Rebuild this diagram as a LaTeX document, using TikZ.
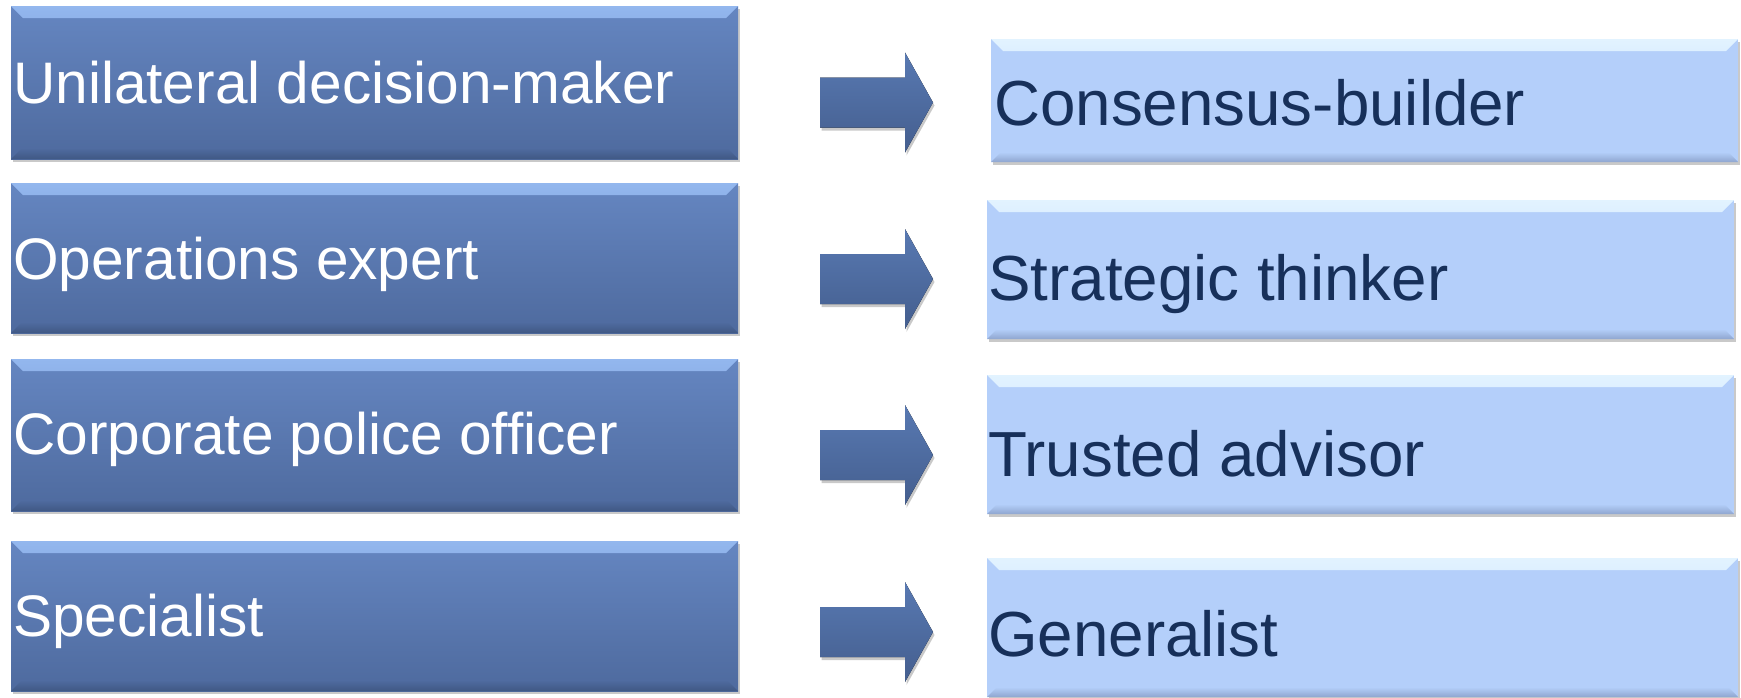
\documentclass[tikz,border=0pt]{standalone}
\usepackage{fontspec}
\setmainfont{Liberation Sans}
\usetikzlibrary{shadows}
\usetikzlibrary{positioning}

\definecolor{leftTop}{HTML}{6586C1}
\definecolor{leftBottom}{HTML}{4E6A9E}
\definecolor{leftBevel}{HTML}{93B7EE}
\definecolor{leftEdge}{HTML}{405884}
\definecolor{rightFill}{HTML}{B4CFFA}
\definecolor{rightBevel}{HTML}{E2F3FF}
\definecolor{rightEdge}{HTML}{8FA6CF}
\definecolor{arrowTop}{HTML}{5879B2}
\definecolor{arrowBottom}{HTML}{445E8E}
\definecolor{navyText}{HTML}{17305A}

\tikzset{
  boxshadow/.style={drop shadow={shadow xshift=1.5pt, shadow yshift=-3pt, opacity=0.35, fill=black!60}},
  darkbox/.style={rectangle, inner sep=0pt, top color=leftTop, bottom color=leftBottom, boxshadow,
    path picture={
      \shade[top color=leftBevel, bottom color=leftTop] (path picture bounding box.north west) -- (path picture bounding box.north east)
        -- ([shift={(-12pt,-12pt)}]path picture bounding box.north east)
        -- ([shift={(12pt,-12pt)}]path picture bounding box.north west) -- cycle;
      \shade[top color=leftBottom, bottom color=leftEdge] (path picture bounding box.south west) -- (path picture bounding box.south east)
        -- ([shift={(-10pt,10pt)}]path picture bounding box.south east)
        -- ([shift={(10pt,10pt)}]path picture bounding box.south west) -- cycle;
    }},
  lightbox/.style={rectangle, inner sep=0pt, fill=rightFill, boxshadow,
    path picture={
      \shade[top color=rightBevel, bottom color=rightFill] (path picture bounding box.north west) -- (path picture bounding box.north east)
        -- ([shift={(-12pt,-12pt)}]path picture bounding box.north east)
        -- ([shift={(12pt,-12pt)}]path picture bounding box.north west) -- cycle;
      \shade[top color=rightFill, bottom color=rightEdge] (path picture bounding box.south west) -- (path picture bounding box.south east)
        -- ([shift={(-10pt,10pt)}]path picture bounding box.south east)
        -- ([shift={(10pt,10pt)}]path picture bounding box.south west) -- cycle;
    }},
  lefttext/.style={anchor=base west, inner sep=0pt, text=white, font=\fontsize{58.6}{70}\selectfont},
  righttext/.style={anchor=base west, inner sep=0pt, text=navyText, font=\fontsize{63.7}{76}\selectfont},
  blockarrow/.pic={
    \fill[top color=arrowTop, bottom color=arrowBottom, boxshadow]
      (-56.5,-25) -- (28.5,-25) -- (28.5,-50) -- (56.5,0) -- (28.5,50) -- (28.5,25) -- (-56.5,25) -- cycle;
  }
}

\begin{document}
\begin{tikzpicture}[x=1pt, y=-1pt]
\useasboundingbox (0,0) rectangle (1741,697);
\fill[white] (0,0) rectangle (1741,697);

% old roles
\node[darkbox, minimum width=727pt, minimum height=153pt] (left1) at (374.5,82.5) {};
\node[darkbox, minimum width=727pt, minimum height=150pt] (left2) at (374.5,258) {};
\node[darkbox, minimum width=727pt, minimum height=152pt] (left3) at (374.5,435) {};
\node[darkbox, minimum width=727pt, minimum height=150pt] (left4) at (374.5,616) {};

\node[lefttext] (oldrole1) at (13,103) {Unilateral decision-maker};
\node[lefttext] (oldrole2) at (13,279) {Operations expert};
\node[lefttext] (oldrole3) at (13,454) {Corporate police officer};
\node[lefttext] (oldrole4) at (13,636) {Specialist};

% arrows
\pic at (876.5,102.5) {blockarrow};
\pic at (876.5,279) {blockarrow};
\pic at (876.5,455) {blockarrow};
\pic at (876.5,632) {blockarrow};

% new roles
\node[lightbox, minimum width=747pt, minimum height=123pt] (right1) at (1364.5,100.5) {};
\node[lightbox, minimum width=747pt, minimum height=139pt] (right2) at (1360.5,269.5) {};
\node[lightbox, minimum width=747pt, minimum height=139pt] (right3) at (1360.5,444.5) {};
\node[lightbox, minimum width=751pt, minimum height=139pt] (right4) at (1362.5,627.5) {};

\node[righttext] (newrole1) at (994,125) {Consensus-builder};
\node[righttext] (newrole2) at (988,300) {Strategic thinker};
\node[righttext] (newrole3) at (988,476) {Trusted advisor};
\node[righttext] (newrole4) at (988,656) {Generalist};
\end{tikzpicture}
\end{document}
